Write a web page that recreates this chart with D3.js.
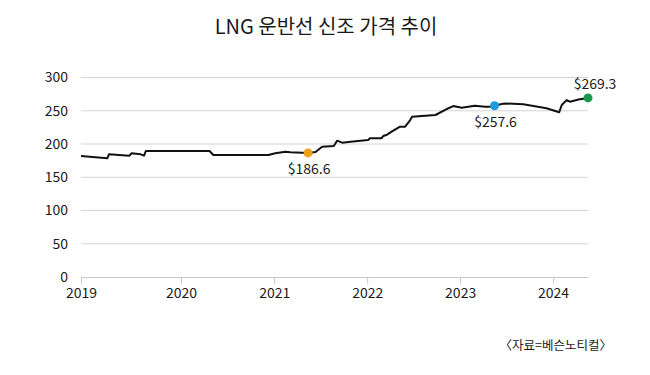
<!DOCTYPE html>
<html>
<head>
<meta charset="utf-8">
<style>
  body { margin: 0; background: #fff; }
  svg text { font-family: "Noto Sans CJK KR", "Noto Sans", sans-serif; fill: #1a1a1a; }
</style>
</head>
<body>
<svg width="650" height="375"></svg>
<script src="https://cdn.jsdelivr.net/npm/d3@7/dist/d3.min.js"></script>
<script>
// price series (dates, $ million)
var dates = ["2019-01-01","2019-04-07","2019-04-13","2019-06-26","2019-07-05","2019-08-07","2019-08-19","2019-08-26",
  "2020-04-22","2020-05-07","2020-12-09","2021-01-05","2021-02-14","2021-03-05","2021-05-14","2021-06-12",
  "2021-07-08","2021-08-23","2021-09-05","2021-09-25","2021-10-28","2022-01-05","2022-01-12","2022-02-26",
  "2022-03-05","2022-03-20","2022-04-01","2022-04-07","2022-04-22","2022-05-10","2022-05-30","2022-06-19",
  "2022-06-26","2022-09-26","2022-11-09","2022-12-05","2023-01-07","2023-02-28","2023-04-09","2023-04-28",
  "2023-05-16","2023-06-13","2023-06-26","2023-09-06","2023-12-06","2024-01-25","2024-02-04","2024-02-23",
  "2024-03-07","2024-04-10","2024-05-17"];
var prices = [182,178.5,184.5,182.4,186,184.5,182.4,189.5,
  189.5,183.5,183.5,186,188.4,187.5,186.6,188,
  196,197,205,202,203.5,206,208.6,208.6,
  212,214,217,218.5,222,226,226,236,
  241,243.6,252.6,257,254.6,257.6,256,256,
  257.6,260,261,259.7,253.7,247.7,258.6,266,
  263.6,267,269.3];

var highlights = [
  {date: "2021-05-14", value: 186.6, color: "#f0a017", pos: "below"},
  {date: "2023-05-16", value: 257.6, color: "#1e9ae0", pos: "below"},
  {date: "2024-05-17", value: 269.3, color: "#1c9a4c", pos: "above"}
];
var yTicks = [0, 50, 100, 150, 200, 250, 300];
var xYears = [2019, 2020, 2021, 2022, 2023, 2024];

var parse = d3.timeParse("%Y-%m-%d");
var data = dates.map(function(d, i) { return {date: parse(d), value: prices[i]}; });

var svg = d3.select("svg");

var x = d3.scaleTime()
    .domain([parse("2019-01-01"), parse("2020-01-01"), parse("2024-05-17")])
    .range([81, 181, 588]);
var y = d3.scaleLinear().domain([0, 300]).range([277, 77.5]);

// title
svg.append("text")
    .attr("x", 326).attr("y", 34)
    .attr("text-anchor", "middle")
    .style("font-size", "20px")
    .text("LNG 운반선 신조 가격 추이");

// grid + y labels
var grid = svg.append("g");
grid.selectAll("line").data(yTicks.slice(1)).enter().append("line")
    .attr("x1", 81).attr("x2", 588)
    .attr("y1", function(d) { return y(d); }).attr("y2", function(d) { return y(d); })
    .attr("stroke", "#d4d4d4").attr("stroke-width", 1);
grid.selectAll("text").data(yTicks).enter().append("text")
    .attr("x", 68).attr("y", function(d) { return y(d); })
    .attr("dy", "0.35em")
    .attr("text-anchor", "end")
    .style("font-size", "14px")
    .text(function(d) { return d; });

// x axis
var xAxis = svg.append("g")
    .attr("transform", "translate(0," + y(0) + ")")
    .call(d3.axisBottom(x)
      .tickValues(xYears.map(function(yr) { return new Date(yr, 0, 1); }))
      .tickFormat(d3.timeFormat("%Y"))
      .tickSize(7).tickSizeOuter(0));
xAxis.select(".domain").attr("stroke", "#c8c8c8");
xAxis.selectAll(".tick line").attr("stroke", "#c8c8c8");
xAxis.selectAll(".tick text")
    .attr("y", 11)
    .style("font-size", "14px")
    .style("font-family", "'Noto Sans CJK KR', 'Noto Sans', sans-serif")
    .attr("fill", "#1a1a1a");

// line
var line = d3.line()
    .x(function(d) { return x(d.date); })
    .y(function(d) { return y(d.value); });

svg.append("path")
    .datum(data)
    .attr("fill", "none")
    .attr("stroke", "#111")
    .attr("stroke-width", 2)
    .attr("stroke-linejoin", "round")
    .attr("d", line);

// highlighted points
var hl = svg.append("g").selectAll("g").data(highlights).enter().append("g");
hl.append("circle")
    .attr("cx", function(d) { return x(parse(d.date)); })
    .attr("cy", function(d) { return y(d.value); })
    .attr("r", 4.5)
    .attr("fill", function(d) { return d.color; });
hl.append("text")
    .attr("x", function(d) { return x(parse(d.date)) + (d.pos === "above" ? 7 : 1); })
    .attr("y", function(d) { return y(d.value) + (d.pos === "above" ? -9 : 21); })
    .attr("text-anchor", "middle")
    .style("font-size", "14px")
    .text(function(d) { return "$" + d.value.toFixed(1); });

// source
svg.append("text")
    .attr("x", 612).attr("y", 350)
    .attr("text-anchor", "end")
    .style("font-size", "12.5px")
    .text("〈자료=베슨노티컬〉");
</script>
</body>
</html>
